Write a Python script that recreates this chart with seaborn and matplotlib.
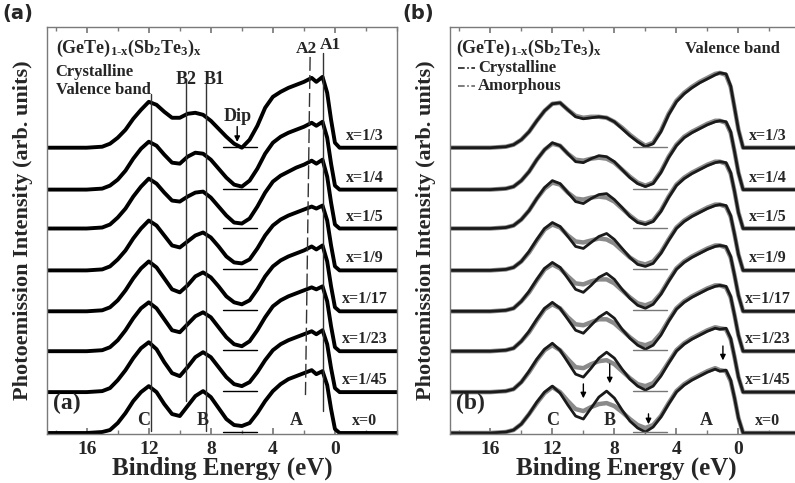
import numpy as np
import matplotlib
matplotlib.use("Agg")
import matplotlib.pyplot as plt
import seaborn as sns

sns.set_theme(style="white")
plt.rcParams['font.family'] = ['Liberation Serif', 'DejaVu Serif']
plt.rcParams['mathtext.fontset'] = 'custom'
plt.rcParams['mathtext.rm'] = 'Liberation Serif:bold'
plt.rcParams['mathtext.bf'] = 'Liberation Serif:bold'
plt.rcParams['mathtext.it'] = 'Liberation Serif:bold'

# ---------------- data ----------------
energy = [18.6, 16.0, 15.0, 14.5, 14.0, 13.5, 13.0, 12.5, 12.0, 11.5, 11.0, 10.5, 10.0,
          9.5, 9.0, 8.5, 8.0, 7.5, 7.0, 6.5, 6.0, 5.5, 5.0, 4.5, 4.0, 3.5, 3.0, 2.5,
          2.0, 1.5, 1.2, 0.8, 0.5, 0.25, 0.0, -0.3, -4.2]

labels = ["x=1/3", "x=1/4", "x=1/5", "x=1/9", "x=1/17", "x=1/23", "x=1/45", "x=0"]
offsets = [286, 244, 205, 163, 122, 82, 41, 0]

cryst_a = {
    "x=1/3":  [0,0,1,4,10,18,29,38,46,43,36,30,30,34,35,33,27,19,11,4,0,8,22,40,51,56,60,63,66,70,66,71,55,28,5,0,0],
    "x=1/4":  [0,0,1,4,10,19,31,41,48,44,35,27,26,33,37,36,30,21,12,5,3,9,21,36,47,53,57,60,63,67,64,68,52,26,4,0,0],
    "x=1/5":  [0,0,1,4,11,20,32,42,50,45,36,28,27,32,36,37,31,22,13,6,5,10,22,36,47,53,57,61,64,68,65,69,52,26,4,0,0],
    "x=1/9":  [0,0,1,4,11,20,32,42,50,45,35,25,23,29,35,38,33,24,14,8,7,11,22,35,45,51,55,58,61,64,62,65,50,25,4,0,0],
    "x=1/17": [0,0,1,4,11,21,33,43,50,44,33,22,19,26,35,39,34,25,15,9,7,11,22,35,45,51,55,58,61,65,62,66,50,25,4,0,0],
    "x=1/23": [0,0,1,4,11,21,33,43,49,43,32,21,19,27,35,39,34,24,14,7,5,10,21,34,45,51,55,58,61,64,62,65,50,25,4,0,0],
    "x=1/45": [0,0,1,4,12,22,34,44,50,43,30,19,16,25,35,40,35,25,15,8,6,10,20,32,42,48,52,55,58,61,58,62,48,24,4,0,0],
    "x=0":    [0,0,1,3,10,20,32,41,47,41,29,19,17,27,37,42,36,25,14,8,7,10,20,32,42,49,54,57,60,63,59,62,48,24,4,0,0],
}

cryst_b = {
    "x=1/3":  [0,0,1,3,8,16,27,37,44,45,38,31,29,30,31,30,26,19,12,6,1,4,16,33,46,54,60,65,69,73,75,74,62,40,18,0,0],
    "x=1/4":  [0,0,1,3,9,18,30,40,47,44,36,28,27,31,34,33,28,20,12,6,3,6,17,32,44,52,57,61,65,68,69,68,58,38,17,0,0],
    "x=1/5":  [0,0,1,3,9,18,30,41,48,45,36,27,25,30,34,35,29,21,12,6,4,7,17,31,43,50,55,59,63,66,67,66,56,37,16,0,0],
    "x=1/9":  [0,0,1,3,9,19,31,42,48,44,34,24,22,28,34,37,31,22,13,6,4,7,17,30,42,49,54,58,62,65,66,65,55,36,16,0,0],
    "x=1/17": [0,0,1,3,10,20,32,43,49,44,33,22,19,26,34,38,32,22,13,6,3,7,17,30,42,49,54,58,62,65,66,65,55,36,16,0,0],
    "x=1/23": [0,0,1,3,10,20,32,43,49,43,32,21,18,26,34,39,33,22,13,6,2,6,16,30,42,49,54,58,62,65,66,65,55,36,16,0,0],
    "x=1/45": [0,0,1,3,10,21,33,43,49,42,30,18,15,24,34,40,34,23,13,6,2,6,16,29,41,48,53,57,61,64,63,64,54,35,15,0,0],
    "x=0":    [0,0,1,3,9,19,31,41,47,40,28,17,14,25,36,42,35,23,12,5,1,6,16,29,41,48,53,57,61,64,62,63,53,35,15,0,0],
}

amorph_b = {
    "x=1/3":  [0,0,1,3,8,16,27,37,44,45,38,32,30,31,31,30,26,20,13,7,2,5,17,34,47,55,61,66,70,74,75,73,61,40,18,0,0],
    "x=1/4":  [0,0,1,3,9,18,30,40,46,44,36,30,29,31,32,31,27,20,13,7,4,7,18,33,45,53,58,62,66,69,69,67,57,38,17,0,0],
    "x=1/5":  [0,0,1,3,9,18,30,40,46,44,36,30,29,31,32,31,27,20,13,7,5,8,18,32,44,51,56,60,64,67,67,65,55,37,16,0,0],
    "x=1/9":  [0,0,1,3,9,18,30,41,46,43,35,29,28,30,32,31,27,20,13,8,6,9,18,31,43,50,55,59,63,66,66,64,54,36,16,0,0],
    "x=1/17": [0,0,1,3,10,19,31,42,47,43,35,28,27,30,32,32,28,21,14,8,6,9,18,31,43,50,55,59,63,66,66,64,54,36,16,0,0],
    "x=1/23": [0,0,1,3,10,19,31,42,47,43,34,27,26,29,32,32,28,21,14,8,6,9,18,31,43,50,55,59,63,66,66,64,54,36,16,0,0],
    "x=1/45": [0,0,1,3,10,20,32,42,47,42,33,25,24,28,31,32,28,21,14,8,6,9,18,30,42,49,54,58,62,65,64,63,53,35,15,0,0],
    "x=0":    [0,0,1,3,9,19,30,40,46,41,32,24,22,26,29,30,27,21,14,8,5,8,17,30,42,49,54,58,62,65,63,62,52,35,15,0,0],
}

xticks_major = [16, 12, 8, 4, 0]

# ---------------- figure ----------------
W, H = 795, 483
fig = plt.figure(figsize=(W / 100, H / 100), dpi=100)

def px_axes(x0, y0, x1, y1):
    return fig.add_axes([x0 / W, 1 - y1 / H, (x1 - x0) / W, (y1 - y0) / H])

ax_a = px_axes(47, 27, 397, 434)
ax_b = px_axes(450, 27, 802, 434)

formula = r"(GeTe)$_{\mathrm{1\text{-}x}}$(Sb$_{\mathrm{2}}$Te$_{\mathrm{3}}$)$_{\mathrm{x}}$"

spine_c = "#7a7a7a"
for ax, xr in ((ax_a, (18.56, -3.84)), (ax_b, (18.6, -4.1))):
    ax.set_xlim(*xr)
    ax.set_ylim(-1, 407)
    ax.set_yticks([])
    ax.set_xticks(xticks_major)
    ax.set_xticks(np.arange(-4, 19, 2), minor=True)
    ax.tick_params(axis="x", which="both", direction="in", top=True, bottom=True,
                   color=spine_c, labelsize=14, pad=5)
    ax.tick_params(axis="x", which="major", length=4)
    ax.tick_params(axis="x", which="minor", length=3)
    for lab in ax.get_xticklabels():
        lab.set_fontweight("bold")
    for s in ax.spines.values():
        s.set_color(spine_c)
        s.set_linewidth(1.0)
    ax.set_facecolor("white")
    ax.set_xlabel("Binding Energy (eV)", fontsize=18, fontweight="bold", labelpad=-1)
    ax.set_ylabel("Photoemission Intensity (arb. units)", fontsize=16, fontweight="bold", labelpad=10)
ax_b.spines["right"].set_visible(False)

# ---- panel a spectra ----
for lab, off in zip(labels, offsets):
    y = np.array(cryst_a[lab]) + off
    sns.lineplot(x=energy, y=y, ax=ax_a, color="black", lw=2.8, sort=False, estimator=None)
    ax_a.plot([7.2, 5.0], [off + 1, off + 1], color="black", lw=1.0)
    ax_a.text(-1.9, off + 4, lab, ha="center", va="bottom", fontsize=11.5, fontweight="bold")

# vertical guide lines panel a
ax_a.plot([11.85, 11.85], [2, 340], color="#333333", lw=1.0)
ax_a.plot([9.6, 9.6], [32, 352], color="#333333", lw=1.0)
ax_a.plot([8.3, 8.3], [2, 352], color="#333333", lw=1.0)
ax_a.plot([1.6, 1.9], [377, 38], color="#333333", lw=1.0, ls=(0, (10, 3)))
ax_a.plot([0.8, 0.8], [22, 381], color="#333333", lw=1.0)

ax_a.text(1.85, 377, "A2", ha="center", va="bottom", fontsize=12.5, fontweight="bold")
ax_a.text(0.3, 381, "A1", ha="center", va="bottom", fontsize=12.5, fontweight="bold")
ax_a.text(9.6, 346, "B2", ha="center", va="bottom", fontsize=13, fontweight="bold")
ax_a.text(7.8, 346, "B1", ha="center", va="bottom", fontsize=13, fontweight="bold")
ax_a.text(6.3, 309, "Dip", ha="center", va="bottom", fontsize=13, fontweight="bold")
ax_a.annotate("", xy=(6.3, 289), xytext=(6.3, 310),
              arrowprops=dict(arrowstyle="-|>", color="black", lw=1.0, mutation_scale=8))
ax_a.text(18.0, 386, formula, ha="left", va="center", fontsize=13, fontweight="bold")
ax_a.text(18.0, 362, "Crystalline", ha="left", va="center", fontsize=12, fontweight="bold")
ax_a.text(18.0, 344, "Valence band", ha="left", va="center", fontsize=12, fontweight="bold")
ax_a.text(18.2, 30, "(a)", ha="left", va="center", fontsize=17, fontweight="bold")
for txt, e in (("C", 12.3), ("B", 8.5), ("A", 2.5)):
    ax_a.text(e, 4, txt, ha="center", va="bottom", fontsize=13, fontweight="bold")

# ---- panel b spectra ----
for lab, off in zip(labels, offsets):
    ya = np.array(amorph_b[lab]) + off
    yc = np.array(cryst_b[lab]) + off
    sns.lineplot(x=energy, y=ya, ax=ax_b, color="#8a8a8a", lw=3.2, sort=False, estimator=None)
    sns.lineplot(x=energy, y=yc, ax=ax_b, color="#1a1a1a", lw=2.0, sort=False, estimator=None)
    ax_b.plot([6.8, 4.6], [off + 1, off + 1], color="#777777", lw=1.0)
    ax_b.text(-1.9, off + 4, lab, ha="center", va="bottom", fontsize=11.5, fontweight="bold")

arrow_kw = dict(arrowstyle="-|>", color="black", lw=1.0, mutation_scale=8)
ax_b.annotate("", xy=(10.0, 32), xytext=(10.0, 52), arrowprops=arrow_kw)
ax_b.annotate("", xy=(8.3, 47), xytext=(8.3, 72), arrowprops=arrow_kw)
ax_b.annotate("", xy=(5.8, 6), xytext=(5.8, 22), arrowprops=arrow_kw)
ax_b.annotate("", xy=(1.0, 70), xytext=(1.0, 90), arrowprops=arrow_kw)

ax_b.text(18.2, 386, formula, ha="left", va="center", fontsize=13, fontweight="bold")
ax_b.plot([18.1, 17.0], [366, 366], color="#222222", lw=1.2, ls=(0, (4, 1.5, 1, 1.5)))
ax_b.plot([18.1, 17.0], [348, 348], color="#666666", lw=1.2, ls=(0, (4, 1.5, 1, 1.5)))
ax_b.text(16.8, 366, "Crystalline", ha="left", va="center", fontsize=12, fontweight="bold")
ax_b.text(16.8, 348, "Amorphous", ha="left", va="center", fontsize=12, fontweight="bold")
ax_b.text(0.4, 385, "Valence band", ha="center", va="center", fontsize=12, fontweight="bold")
ax_b.text(18.2, 30, "(b)", ha="left", va="center", fontsize=17, fontweight="bold")
for txt, e in (("C", 12.0), ("B", 8.3), ("A", 2.1)):
    ax_b.text(e, 4, txt, ha="center", va="bottom", fontsize=13, fontweight="bold")

# outer panel letters
fig.text(2 / W, 1 - 14 / H, "(a)", fontsize=14, fontweight="bold", family="DejaVu Sans", va="center")
fig.text(402 / W, 1 - 14 / H, "(b)", fontsize=14, fontweight="bold", family="DejaVu Sans", va="center")

fig.savefig("out.png", dpi=100, facecolor="white")
